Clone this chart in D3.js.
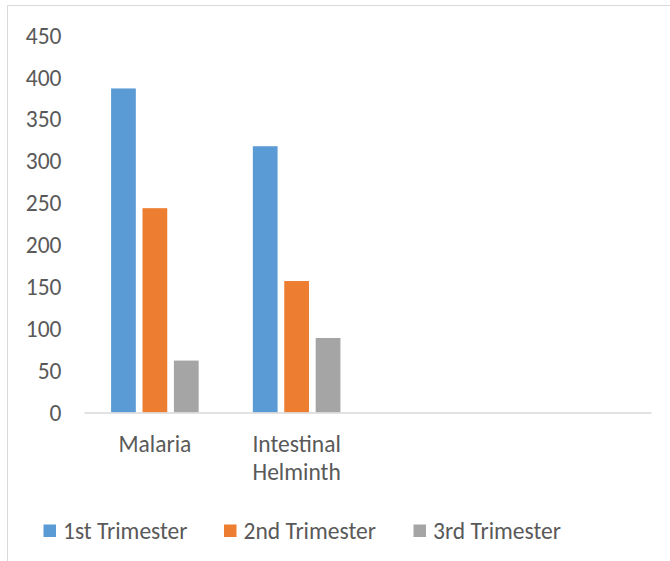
<!DOCTYPE html>
<html>
<head>
<meta charset="utf-8">
<script src="https://cdn.jsdelivr.net/npm/d3@7/dist/d3.min.js"></script>
<style>
  html, body { margin: 0; padding: 0; background: #fff; }
  svg text { font-family: Carlito, Calibri, Lato, "Noto Sans", sans-serif; fill: #595959; }
</style>
</head>
<body>
<svg id="chart" width="670" height="561"></svg>
<script>
// Cases by trimester of pregnancy
const categories = ["Malaria", "Intestinal Helminth", "", ""];
const seriesNames = ["1st Trimester", "2nd Trimester", "3rd Trimester"];
const trimester1 = [387, 318, null, null];
const trimester2 = [244, 157, null, null];
const trimester3 = [62, 89, null, null];
const yTicks = [0, 50, 100, 150, 200, 250, 300, 350, 400, 450];

const seriesValues = [trimester1, trimester2, trimester3];
const colors = ["#5B9BD5", "#ED7D31", "#A5A5A5"];

const svg = d3.select("#chart");
const W = 670, H = 561;
const fontSize = 23.5;

// chart frame
svg.append("rect")
  .attr("x", 7.5).attr("y", 5.5)
  .attr("width", W + 20).attr("height", H + 20)
  .attr("fill", "none").attr("stroke", "#D9D9D9").attr("stroke-width", 1);

const plot = { left: 84, right: 651, top: 35.7, bottom: 412.5 };

const x = d3.scaleBand()
  .domain(d3.range(categories.length))
  .range([plot.left, plot.right])
  .padding(0);

const xInner = d3.scaleBand()
  .domain(d3.range(seriesNames.length))
  .range([0, x.bandwidth()])
  .paddingInner(0.2126)
  .paddingOuter(0.862);

const y = d3.scaleLinear()
  .domain([0, 450])
  .range([plot.bottom, plot.top]);

// bars
seriesValues.forEach((vals, s) => {
  svg.append("g")
    .selectAll("rect")
    .data(vals.map((v, i) => ({ v, i })).filter(d => d.v != null))
    .join("rect")
    .attr("x", d => x(d.i) + xInner(s))
    .attr("width", xInner.bandwidth())
    .attr("y", d => y(d.v))
    .attr("height", d => y(0) - y(d.v))
    .attr("fill", colors[s]);
});

// y axis labels
const yAxis = d3.axisLeft(y).tickValues(yTicks).tickSize(0).tickPadding(0);
const gy = svg.append("g").attr("transform", `translate(61.5,0)`).call(yAxis);
gy.select(".domain").remove();
gy.selectAll("text")
  .style("font-size", fontSize + "px")
  .attr("fill", "#595959");

// category axis
const xAxis = d3.axisBottom(x).tickFormat(i => categories[i]).tickSize(0).tickPadding(0);
const gx = svg.append("g").attr("transform", `translate(0,${plot.bottom})`).call(xAxis);
gx.select(".domain").attr("stroke", "#D9D9D9").attr("stroke-width", 1.5);
gx.selectAll(".tick text").each(function (i) {
  const t = d3.select(this);
  const words = categories[i].split(" ").filter(w => w.length);
  t.text(null).attr("y", 0).attr("dy", null)
    .style("font-size", fontSize + "px").attr("fill", "#595959");
  words.forEach((w, k) => {
    t.append("tspan").attr("x", 0).attr("y", 39.2 + k * 28.3).text(w);
  });
});

// legend
const legendX = [43.5, 224, 413.5];
const legend = svg.append("g");
seriesNames.forEach((name, s) => {
  const g = legend.append("g").attr("transform", `translate(${legendX[s]},0)`);
  g.append("rect").attr("x", 0).attr("y", 524.5).attr("width", 12.5).attr("height", 12.5).attr("fill", colors[s]);
  g.append("text").attr("x", 19.5).attr("y", 538.5).style("font-size", fontSize + "px").text(name);
});
</script>
</body>
</html>
